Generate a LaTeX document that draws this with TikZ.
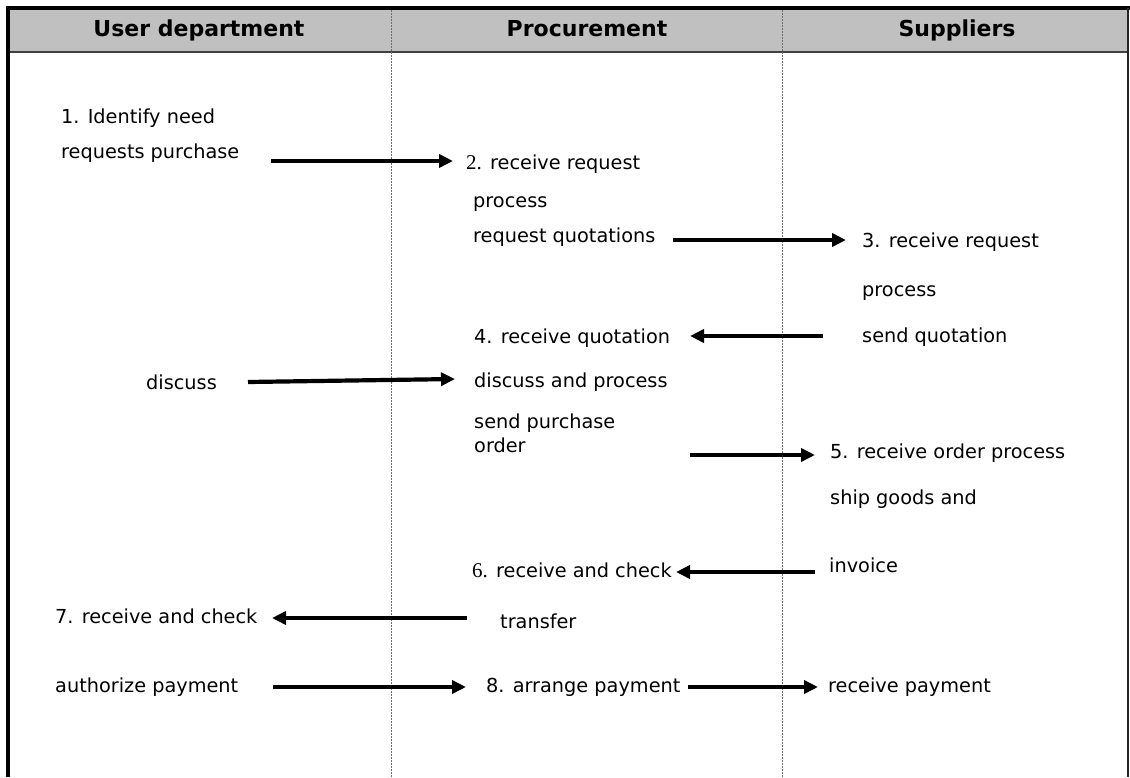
\documentclass[tikz,border=0pt]{standalone}
\usepackage{fontspec}
\setmainfont{DejaVu Sans}
\newfontfamily\serifnum{Liberation Serif}
\usetikzlibrary{arrows.meta}
\definecolor{headgray}{HTML}{C0C0C0}
\definecolor{divgray}{HTML}{707070}
\tikzset{
  txt/.style={anchor=base west, inner sep=0pt, font=\fontsize{19.3}{23}\selectfont},
  head/.style={anchor=base, inner sep=0pt, font=\fontsize{22}{26}\selectfont\bfseries},
  arr/.style={line width=4.2pt, -{Triangle[length=14pt,width=13pt]}},
  divider/.style={divgray, line width=0.8pt, dash pattern=on 2pt off 1pt},
}
\newcommand{\sernum}[1]{{\serifnum\fontsize{21}{23}\selectfont #1}}
\begin{document}
\begin{tikzpicture}[x=1pt,y=-1pt]
\useasboundingbox (0,0) rectangle (1130,777);
% header band
\fill[headgray] (8,10) rectangle (1128,51);
\draw[black!75, line width=2pt] (8,52) -- (1128,52);
% column dividers
\draw[divider] (391,10) -- (391,777);
\draw[divider] (782,10) -- (782,777);
% borders
\draw[black, line width=4pt] (8,777) -- (8,8) -- (1130,8);
\draw[black!85, line width=2.2pt] (1128,8) -- (1128,777);
% headers
\node[head] (h1) at (199,36) {User department};
\node[head] (h2) at (587,36) {Procurement};
\node[head] (h3) at (957,36) {Suppliers};
% texts
\node[txt] (t1) at (61,123) {1. Identify need};
\node[txt] (t1b) at (61,158) {requests purchase};
\node[txt] (t2) at (466,169) {\sernum{2.} receive request};
\node[txt] (t2b) at (473,207) {process};
\node[txt] (t2c) at (473,242) {request quotations};
\node[txt] (t3) at (862,247) {3. receive request};
\node[txt] (t3b) at (862,296) {process};
\node[txt] (t3c) at (862,342) {send quotation};
\node[txt] (t4) at (474,343) {4. receive quotation};
\node[txt] (d1) at (146,389) {discuss};
\node[txt] (t4b) at (474,387) {discuss and process};
\node[txt] (t4c) at (474,428) {send purchase};
\node[txt] (t4d) at (474,452) {order};
\node[txt] (t5) at (830,458) {5. receive order process};
\node[txt] (t5b) at (830,504) {ship goods and};
\node[txt] (t6) at (472,577) {\sernum{6.} receive and check};
\node[txt] (t5c) at (829,572) {invoice};
\node[txt] (t7) at (55,623) {7. receive and check};
\node[txt] (t6b) at (500,628) {transfer};
\node[txt] (t7b) at (55,692) {authorize payment};
\node[txt] (t8) at (486,692) {8. arrange payment};
\node[txt] (t9) at (828,692) {receive payment};
% arrow end points
\coordinate (a1s) at (271,161); \coordinate (a1e) at (453,161);
\coordinate (a2s) at (673,240); \coordinate (a2e) at (846,240);
\coordinate (a3s) at (823,336); \coordinate (a3e) at (690,336);
\coordinate (a4s) at (248,382); \coordinate (a4e) at (455,379);
\coordinate (a5s) at (690,455); \coordinate (a5e) at (815,455);
\coordinate (a6s) at (815,572); \coordinate (a6e) at (676,572);
\coordinate (a7s) at (467,618); \coordinate (a7e) at (272,618);
\coordinate (a8s) at (273,687); \coordinate (a8e) at (466,687);
\coordinate (a9s) at (688,687); \coordinate (a9e) at (818,687);
\draw[arr] (a1s) -- (a1e);
\draw[arr] (a2s) -- (a2e);
\draw[arr] (a3s) -- (a3e);
\draw[arr] (a4s) -- (a4e);
\draw[arr] (a5s) -- (a5e);
\draw[arr] (a6s) -- (a6e);
\draw[arr] (a7s) -- (a7e);
\draw[arr] (a8s) -- (a8e);
\draw[arr] (a9s) -- (a9e);
\end{tikzpicture}
\end{document}
